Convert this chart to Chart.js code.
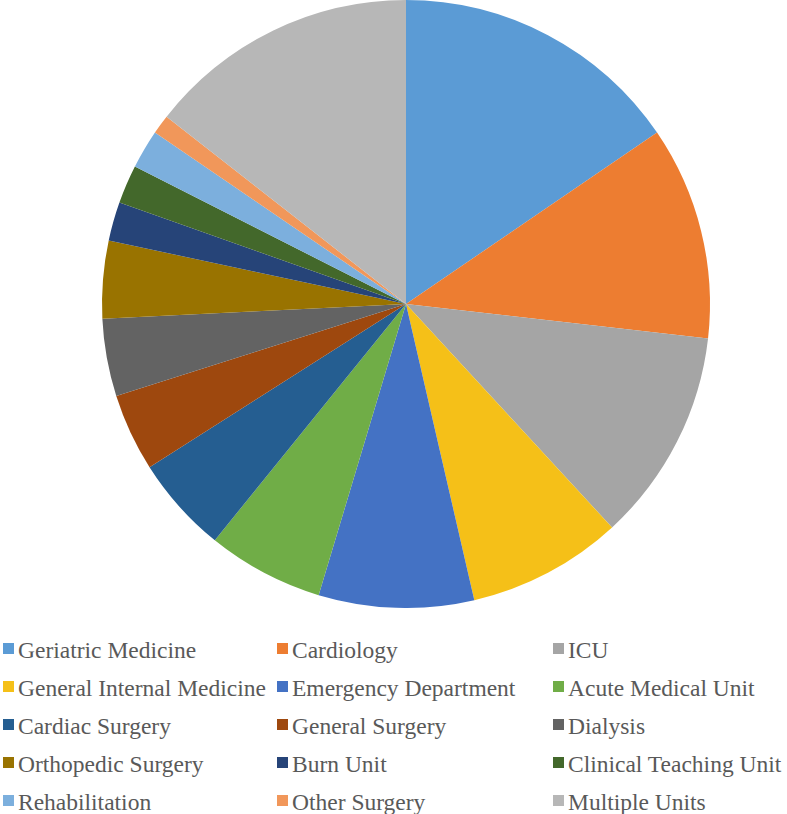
<!DOCTYPE html>
<html>
<head>
<meta charset="utf-8">
<script src="https://cdn.jsdelivr.net/npm/chart.js@4.4.1/dist/chart.umd.min.js"></script>
<style>
  html, body { margin: 0; padding: 0; background: #ffffff; }
  #chartBox { position: absolute; left: 0; top: 0; width: 787px; height: 608px; }
  .lg { position: absolute; font-family: "Liberation Serif"; font-size: 23.5px; line-height: 28px; color: #595959; white-space: nowrap; }
  .bx { position: absolute; width: 11px; height: 11px; }
</style>
</head>
<body>
<div id="chartBox"><canvas id="c"></canvas></div>
<div id="legend"></div>
<script>
const categories = [
  "Geriatric Medicine", "Cardiology", "ICU",
  "General Internal Medicine", "Emergency Department", "Acute Medical Unit",
  "Cardiac Surgery", "General Surgery", "Dialysis",
  "Orthopedic Surgery", "Burn Unit", "Clinical Teaching Unit",
  "Rehabilitation", "Other Surgery", "Multiple Units"
];
const values = [15, 11, 11, 8, 8, 6, 5, 4, 4, 4, 2, 2, 2, 1, 14];
const colors = [
  "#5B9BD5", "#ED7D31", "#A5A5A5",
  "#F5C018", "#4472C4", "#70AD47",
  "#255E91", "#9E480E", "#636363",
  "#997300", "#264478", "#43682B",
  "#7CAFDD", "#F1975A", "#B7B7B7"
];

const chart = new Chart(document.getElementById("c"), {
  type: "pie",
  data: {
    labels: categories,
    datasets: [{ data: values, backgroundColor: colors, borderWidth: 0 }]
  },
  options: {
    responsive: true,
    maintainAspectRatio: false,
    animation: false,
    layout: { padding: { left: 25, right: 0, top: 0, bottom: 0 } },
    plugins: { legend: { display: false }, tooltip: { enabled: false } }
  }
});

// HTML legend in a 3-column grid, built from the chart's labels and slice colours
const colX = [3, 277, 553];
const rowY = [649, 687, 725, 763, 801];
const legendEl = document.getElementById("legend");
chart.data.labels.forEach((label, i) => {
  const x = colX[i % 3];
  const y = rowY[Math.floor(i / 3)];
  const b = document.createElement("div");
  b.className = "bx";
  b.style.left = x + "px";
  b.style.top = (y - 6) + "px";
  b.style.background = chart.data.datasets[0].backgroundColor[i];
  legendEl.appendChild(b);
  const t = document.createElement("div");
  t.className = "lg";
  t.style.left = (x + 15) + "px";
  t.style.top = (y - 13) + "px";
  t.textContent = label;
  legendEl.appendChild(t);
});
</script>
</body>
</html>
